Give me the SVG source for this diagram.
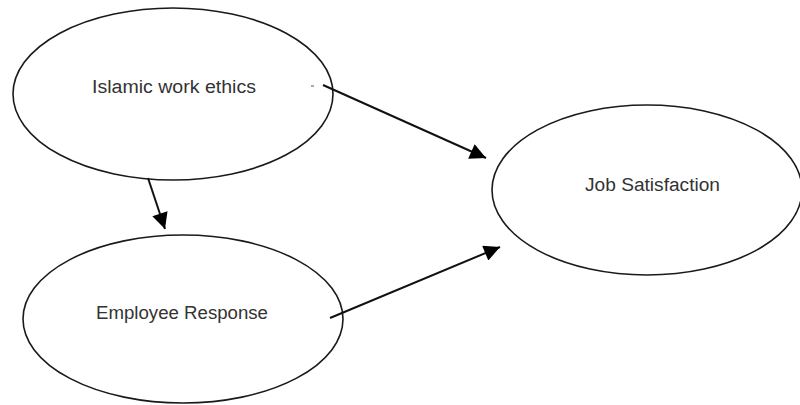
<svg xmlns="http://www.w3.org/2000/svg" width="800" height="405" viewBox="0 0 800 405">
<defs>
<style>
.node ellipse{fill:#fff;stroke:#1a1a1a;stroke-width:1.6}
.node text{font-family:"Liberation Sans",Arial,sans-serif;font-size:18px;fill:#333}
.conn line{stroke:#111;stroke-width:2}
</style>
<marker id="ah" viewBox="0 0 10 10" refX="10" refY="5" markerWidth="20" markerHeight="16" markerUnits="userSpaceOnUse" orient="auto">
<path d="M0,0 L10,5 L0,10 Z" fill="#000"/>
</marker>
</defs>
<rect width="800" height="405" fill="#fff"/>
<g id="n-islamic" class="node">
<ellipse cx="173" cy="94" rx="160" ry="86"/>
<text x="92" y="93" textLength="164" lengthAdjust="spacingAndGlyphs">Islamic work ethics</text>
</g>
<g id="n-employee" class="node">
<ellipse cx="183" cy="319" rx="160" ry="84"/>
<text x="96" y="319" textLength="172" lengthAdjust="spacingAndGlyphs">Employee Response</text>
</g>
<g id="n-job" class="node">
<ellipse cx="647" cy="190" rx="155" ry="85"/>
<text x="585" y="191" textLength="135" lengthAdjust="spacingAndGlyphs">Job Satisfaction</text>
</g>
<g id="connectors" class="conn">
<line x1="323" y1="85" x2="486" y2="158" marker-end="url(#ah)"/>
<line x1="330" y1="318" x2="500" y2="247" marker-end="url(#ah)"/>
<line x1="148" y1="178" x2="165" y2="229" marker-end="url(#ah)"/>
</g>
<line x1="311" y1="86" x2="314" y2="86" stroke="#555" stroke-width="1"/>
</svg>
